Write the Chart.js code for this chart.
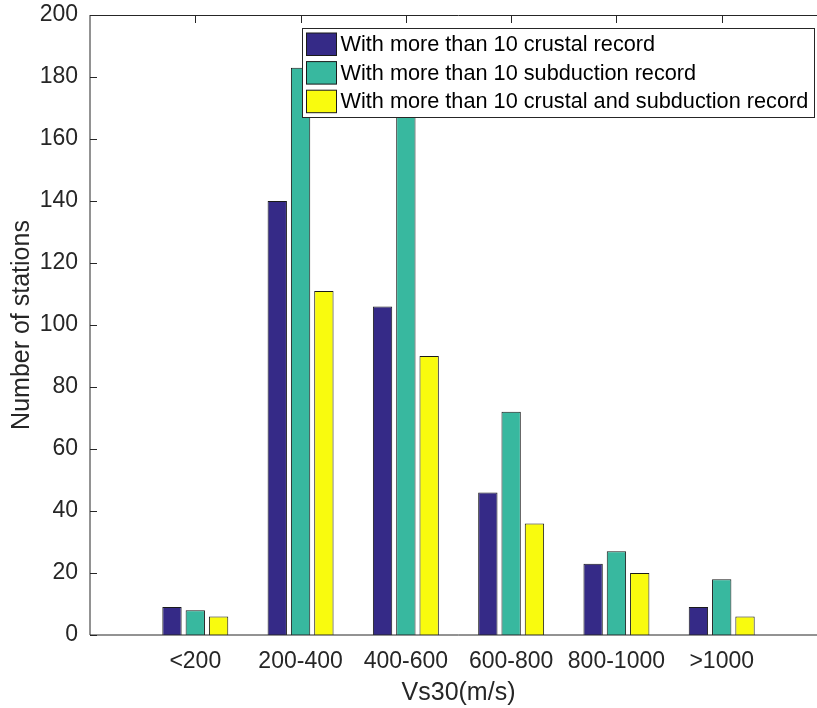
<!DOCTYPE html>
<html><head><meta charset="utf-8">
<script src="https://cdn.jsdelivr.net/npm/chart.js@4/dist/chart.umd.min.js"></script>
<style>html,body{margin:0;padding:0;background:#fff;overflow:hidden;width:817px;height:708px}canvas{display:block}</style>
</head><body>
<canvas id="c" width="840" height="708"></canvas>
<script>
const categories = ['<200', '200-400', '400-600', '600-800', '800-1000', '>1000'];
const crustal = [9, 140, 106, 46, 23, 9];
const subduction = [8, 183, 185, 72, 27, 18];
const both = [6, 111, 90, 36, 20, 6];
const seriesNames = ['With more than 10 crustal record', 'With more than 10 subduction record', 'With more than 10 crustal and subduction record'];
const seriesColors = ['#352a87', '#38b89f', '#f9fb0e'];
const yMin = 0, yMax = 200, yStep = 20;
const xTitle = 'Vs30(m/s)';
const yTitle = 'Number of stations';

const FONT = "'Liberation Sans', Arial, Helvetica, sans-serif";
const labels = [''].concat(categories, ['']);
const pad = arr => [null].concat(arr, [null]);
const seriesData = [crustal, subduction, both];

const axesPlugin = {
  id: 'matlabAxes',
  beforeDatasetsDraw(chart) {
    const {ctx, chartArea: a, scales: {x, y}} = chart;
    ctx.save();
    ctx.strokeStyle = '#262626';
    ctx.lineWidth = 1;
    ctx.beginPath();
    y.ticks.forEach(t => {
      const py = Math.round(y.getPixelForValue(t.value)) + 0.5;
      ctx.moveTo(a.left, py); ctx.lineTo(a.left + 7, py);
    });
    for (let i = 1; i <= categories.length; i++) {
      const px = Math.round(x.getPixelForValue(i)) + 0.5;
      ctx.moveTo(px, a.top); ctx.lineTo(px, a.top + 8);
      ctx.moveTo(px, a.bottom); ctx.lineTo(px, a.bottom - 8);
    }
    ctx.stroke();
    ctx.restore();
  },
  afterDatasetsDraw(chart) {
    const {ctx, chartArea: a} = chart;
    ctx.save();
    ctx.strokeStyle = '#262626';
    ctx.lineWidth = 1;
    ctx.beginPath();
    ctx.moveTo(a.left, a.top + 0.5); ctx.lineTo(a.right, a.top + 0.5);
    ctx.moveTo(a.left, a.top); ctx.lineTo(a.left, a.bottom);
    ctx.moveTo(a.left, a.bottom); ctx.lineTo(a.right, a.bottom);
    ctx.stroke();
    const lx = a.right - 524.5, ly = a.top + 13.5, lw = 512, lh = 89;
    ctx.fillStyle = '#ffffff';
    ctx.fillRect(lx, ly, lw, lh);
    ctx.strokeStyle = '#262626';
    ctx.strokeRect(lx, ly, lw, lh);
    ctx.font = '21.7px ' + FONT;
    ctx.textBaseline = 'middle';
    ctx.textAlign = 'left';
    chart.data.datasets.forEach((ds, i) => {
      const sy = ly + 4.5 + i * 28.6;
      ctx.fillStyle = ds.backgroundColor;
      ctx.fillRect(lx + 4, sy, 30, 22.5);
      ctx.strokeStyle = '#1a1a1a';
      ctx.strokeRect(lx + 4, sy, 30, 22.5);
      ctx.fillStyle = '#000000';
      ctx.fillText(ds.label, lx + 38, sy + 12);
    });
    ctx.restore();
  }
};

new Chart(document.getElementById('c'), {
  type: 'bar',
  data: {
    labels: labels,
    datasets: seriesData.map((d, i) => ({
      label: seriesNames[i],
      data: pad(d),
      backgroundColor: seriesColors[i],
      borderColor: '#1a1a1a',
      borderWidth: 1,
      categoryPercentage: 0.664,
      barPercentage: 0.83
    }))
  },
  options: {
    responsive: false,
    animation: false,
    devicePixelRatio: 1,
    layout: {padding: {left: 0, right: 13, top: 15, bottom: 0}},
    plugins: {legend: {display: false}, tooltip: {enabled: false}},
    scales: {
      x: {
        offset: false,
        grid: {display: false},
        border: {display: false},
        ticks: {autoSkip: false, maxRotation: 0, minRotation: 0, padding: 5, color: '#262626', font: {family: FONT, size: 23}},
        title: {display: true, text: xTitle, color: '#262626', font: {family: FONT, size: 25}, padding: {top: 0, bottom: 0}},
        afterFit(s) { s.height = 73; s.paddingLeft = 0; s.paddingRight = 0; }
      },
      y: {
        min: yMin, max: yMax,
        grid: {display: false},
        border: {display: false},
        ticks: {stepSize: yStep, padding: 4, color: '#262626', font: {family: FONT, size: 23}},
        title: {display: true, text: yTitle, color: '#262626', font: {family: FONT, size: 25}, padding: {top: 7, bottom: 0}},
        afterFit(s) { s.width = 90; s.paddingTop = 0; s.paddingBottom = 0; }
      }
    }
  },
  plugins: [axesPlugin]
});
</script>
</body></html>
